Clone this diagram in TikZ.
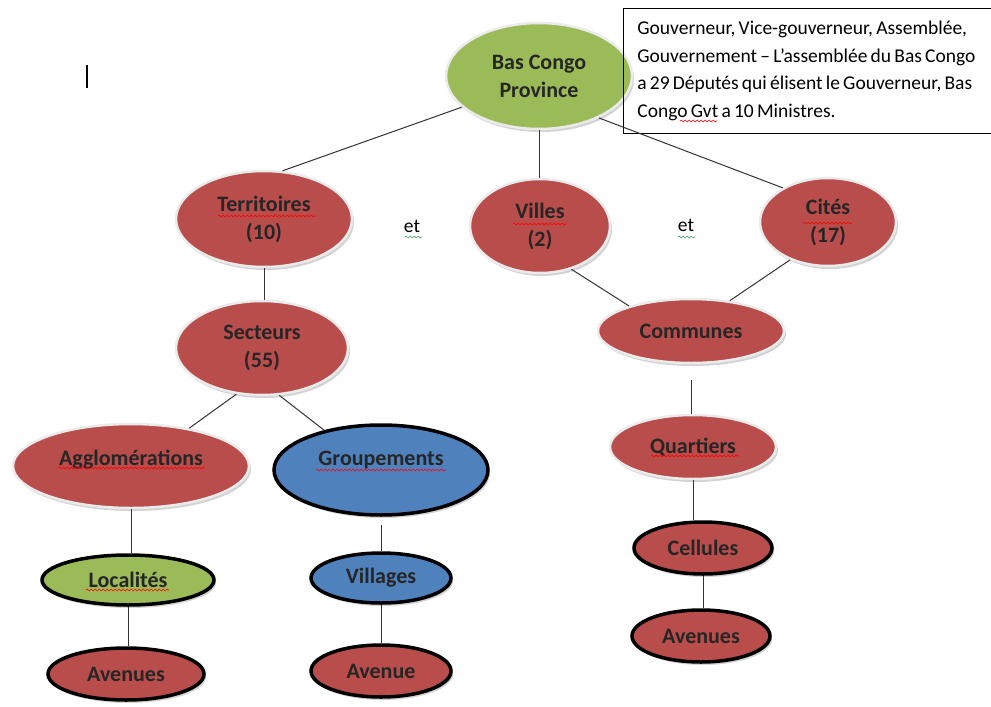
\documentclass[tikz,border=0pt]{standalone}
\usepackage{fontspec}
\setmainfont{Carlito}
\usepackage{xcolor}
\usepackage{tikz}
\usetikzlibrary{shapes.geometric, shadows, decorations.pathmorphing}
\definecolor{bcred}{HTML}{B94D4B}
\definecolor{bcgreen}{HTML}{9BBB59}
\definecolor{bcblue}{HTML}{4F81BD}
\definecolor{spellgreen}{HTML}{3A9A5A}
\tikzstyle{oval} = [ellipse, inner sep=0pt, align=center, text=black!85, font=\fontsize{22}{28}\selectfont\bfseries, drop shadow={shadow xshift=2pt, shadow yshift=-3pt, opacity=0.35}]
\tikzstyle{softov} = [oval, draw=white!92!black, line width=2.5pt]
\tikzstyle{thickov} = [oval, draw=black, line width=3.5pt]
\tikzstyle{conn} = [draw=black!80, line width=1pt]
\tikzstyle{spell} = [decorate, decoration={snake, amplitude=0.9pt, segment length=4pt}, line width=0.6pt]

\begin{document}
\begin{tikzpicture}[x=1pt, y=-1pt]
   \useasboundingbox (0,0) rectangle (991,707);
   % province
   \node (bas) [softov, fill=bcgreen, minimum width=186pt, minimum height=106pt] at (539,76) {Bas Congo\\Province};
   \node (info) [rectangle, draw=black, line width=0.8pt, anchor=north west, text width=420pt, minimum height=125pt, inner xsep=14pt, align=left, font=\fontsize{19.5}{27.7}\selectfont] at (623,8) {\spaceskip=3.2pt plus 1pt Gouverneur, Vice-gouverneur, Assemblée,\\Gouvernement – L’assemblée du Bas Congo\\a 29 Députés qui élisent le Gouverneur, Bas\\Congo Gvt a 10 Ministres.};
   % second level
   \node (terr) [softov, fill=bcred, minimum width=176pt, minimum height=96pt] at (264,219) {Territoires\\(10)};
   \node (vil) [softov, fill=bcred, minimum width=140pt, minimum height=94pt] at (540,226) {Villes\\(2)};
   \node (cit) [softov, fill=bcred, minimum width=136pt, minimum height=88pt] at (828,222) {Cités\\(17)};
   \node (et1) [font=\fontsize{19.5}{20}\selectfont] at (412,226) {et};
   \node (et2) [font=\fontsize{19.5}{20}\selectfont] at (686,225) {et};
   % third level
   \node (sec) [softov, fill=bcred, minimum width=172pt, minimum height=94pt] at (262,348) {Secteurs\\(55)};
   \node (com) [softov, fill=bcred, minimum width=186pt, minimum height=64pt] at (691,331) {Communes};
   \node (agg) [softov, fill=bcred, minimum width=236pt, minimum height=84pt] at (131,466) {Agglomérations\\[-12pt]\mbox{}};
   \node (grp) [thickov, fill=bcblue, minimum width=214pt, minimum height=90pt] at (381,470) {Groupements\\[-4pt]\mbox{}};
   \node (qua) [softov, fill=bcred, minimum width=166pt, minimum height=64pt] at (693,447) {Quartiers};
   \node (loc) [thickov, fill=bcgreen, minimum width=172pt, minimum height=50pt] at (128,580) {Localités};
   \node (vlg) [thickov, fill=bcblue, minimum width=140pt, minimum height=50pt] at (381,578) {Villages};
   \node (cel) [thickov, fill=bcred, minimum width=138pt, minimum height=52pt] at (703,548) {Cellules};
   \node (av1) [thickov, fill=bcred, minimum width=156pt, minimum height=52pt] at (126,674) {Avenues};
   \node (av2) [thickov, fill=bcred, minimum width=140pt, minimum height=52pt] at (381,671) {Avenue};
   \node (av3) [thickov, fill=bcred, minimum width=138pt, minimum height=52pt] at (701,636) {Avenues};
   % connectors
   \draw [conn] (bas.202) -- (terr.69);
   \draw [conn] (bas.south) -- (bas.south |- vil.north);
   \draw [conn] (bas.-35) -- (cit.143);
   \draw [conn] (terr.south) -- (terr.south |- sec.north);
   \draw [conn] (vil.-54) -- (com.158);
   \draw [conn] (cit.225) -- (com.38);
   \draw [conn] (sec.241) -- (agg.33);
   \draw [conn] (sec.290) -- (grp.145);
   \draw [conn, shorten <=16pt] (com.south) -- (com.south |- qua.north);
   \draw [conn] (loc.north -| agg.south) -- (agg.south);
   \draw [conn, shorten <=8pt] (grp.south) -- (vlg.north);
   \draw [conn] (loc.south) -- (loc.south |- av1.north);
   \draw [conn] (vlg.south) -- (av2.north);
   \draw [conn] (qua.south) -- (qua.south |- cel.north);
   \draw [conn] (cel.south) -- (cel.south |- av3.north);
   % spelling marks
   \draw [spell, red] (218,216) -- (316,216);
   \draw [spell, red] (513,224) -- (567,224);
   \draw [spell, red] (803,223) -- (852,223);
   \draw [spell, red] (58,468) -- (205,468);
   \draw [spell, red] (316,470) -- (446,470);
   \draw [spell, red] (651,456) -- (739,456);
   \draw [spell, red] (86,590) -- (169,590);
   \draw [spell, red] (680,121) -- (717,121);
   \draw [spell, spellgreen] (405,237) -- (422,237);
   \draw [spell, spellgreen] (678,237) -- (695,237);
   % cursor mark
   \draw [line width=2.2pt] (87,65) -- (87,88);
\end{tikzpicture}
\end{document}
